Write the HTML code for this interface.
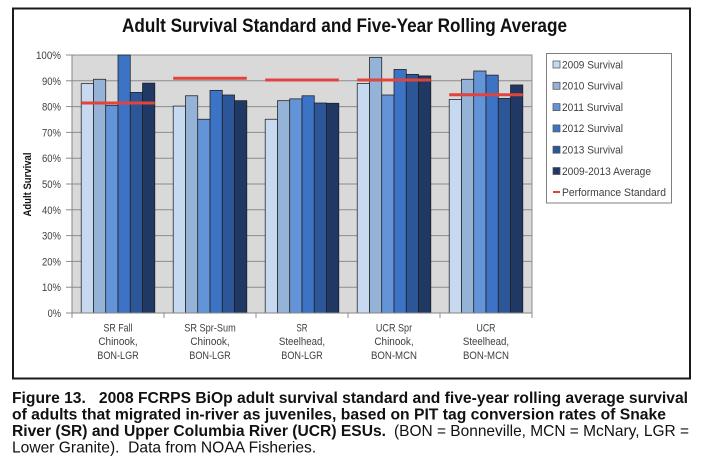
<!DOCTYPE html>
<html>
<head>
<meta charset="utf-8">
<style>
  html, body { margin: 0; padding: 0; background: #ffffff; }
  svg { display: block; }
  .ax { font-family: "Liberation Sans", sans-serif; font-size: 11px; fill: #404040; }
  .lg { font-family: "Liberation Sans", sans-serif; font-size: 11px; fill: #404040; }
  .cap { font-family: "Liberation Sans", sans-serif; font-size: 15.6px; fill: #111; }
</style>
</head>
<body>
<svg width="701" height="461" viewBox="0 0 701 461" xmlns="http://www.w3.org/2000/svg">
  <rect x="0" y="0" width="701" height="461" fill="#ffffff"/>
  <!-- chart frame -->
  <rect x="13" y="8.5" width="677" height="370" fill="#ffffff" stroke="#1a1a1a" stroke-width="2"/>

  <!-- title -->
  <text x="122" y="32" font-family="Liberation Sans, sans-serif" font-weight="bold" font-size="19.5" fill="#111" textLength="445" lengthAdjust="spacingAndGlyphs">Adult Survival Standard and Five-Year Rolling Average</text>

  <!-- plot area -->
  <rect x="72" y="55" width="460" height="258" fill="#d9d9d9" stroke="#8c8c8c" stroke-width="1"/>
  <g stroke="#8c8c8c" stroke-width="1">
    <line x1="72" y1="80.8" x2="532" y2="80.8"/>
    <line x1="72" y1="106.6" x2="532" y2="106.6"/>
    <line x1="72" y1="132.4" x2="532" y2="132.4"/>
    <line x1="72" y1="158.2" x2="532" y2="158.2"/>
    <line x1="72" y1="184" x2="532" y2="184"/>
    <line x1="72" y1="209.8" x2="532" y2="209.8"/>
    <line x1="72" y1="235.6" x2="532" y2="235.6"/>
    <line x1="72" y1="261.4" x2="532" y2="261.4"/>
    <line x1="72" y1="287.2" x2="532" y2="287.2"/>
    <!-- y ticks -->
    <line x1="66" y1="55" x2="72" y2="55"/>
    <line x1="66" y1="80.8" x2="72" y2="80.8"/>
    <line x1="66" y1="106.6" x2="72" y2="106.6"/>
    <line x1="66" y1="132.4" x2="72" y2="132.4"/>
    <line x1="66" y1="158.2" x2="72" y2="158.2"/>
    <line x1="66" y1="184" x2="72" y2="184"/>
    <line x1="66" y1="209.8" x2="72" y2="209.8"/>
    <line x1="66" y1="235.6" x2="72" y2="235.6"/>
    <line x1="66" y1="261.4" x2="72" y2="261.4"/>
    <line x1="66" y1="287.2" x2="72" y2="287.2"/>
    <line x1="66" y1="313" x2="72" y2="313"/>
    <!-- x ticks -->
    <line x1="72" y1="313" x2="72" y2="318"/>
    <line x1="164" y1="313" x2="164" y2="318"/>
    <line x1="256" y1="313" x2="256" y2="318"/>
    <line x1="348" y1="313" x2="348" y2="318"/>
    <line x1="440" y1="313" x2="440" y2="318"/>
    <line x1="532" y1="313" x2="532" y2="318"/>
  </g>

  <!-- bars -->
  <g stroke="#1e1e1e" stroke-width="0.75">
    <!-- G1 -->
    <rect x="81.2" y="83.64" width="12.27" height="229.36" fill="#c6d9f0"/>
    <rect x="93.47" y="79.25" width="12.27" height="233.75" fill="#95b3d7"/>
    <rect x="105.73" y="105.31" width="12.27" height="207.69" fill="#6494d8"/>
    <rect x="118" y="55" width="12.27" height="258" fill="#3d73c5"/>
    <rect x="130.27" y="92.41" width="12.27" height="220.59" fill="#2d5699"/>
    <rect x="142.53" y="83.12" width="12.27" height="229.88" fill="#1f3864"/>
    <!-- G2 -->
    <rect x="173.2" y="106.08" width="12.27" height="206.92" fill="#c6d9f0"/>
    <rect x="185.47" y="95.76" width="12.27" height="217.24" fill="#95b3d7"/>
    <rect x="197.73" y="119.24" width="12.27" height="193.76" fill="#6494d8"/>
    <rect x="210" y="90.35" width="12.27" height="222.65" fill="#3d73c5"/>
    <rect x="222.27" y="94.99" width="12.27" height="218.01" fill="#2d5699"/>
    <rect x="234.53" y="100.67" width="12.27" height="212.33" fill="#1f3864"/>
    <!-- G3 -->
    <rect x="265.2" y="119.24" width="12.27" height="193.76" fill="#c6d9f0"/>
    <rect x="277.47" y="100.67" width="12.27" height="212.33" fill="#95b3d7"/>
    <rect x="289.73" y="98.86" width="12.27" height="214.14" fill="#6494d8"/>
    <rect x="302" y="95.76" width="12.27" height="217.24" fill="#3d73c5"/>
    <rect x="314.27" y="102.99" width="12.27" height="210.01" fill="#2d5699"/>
    <rect x="326.53" y="103.25" width="12.27" height="209.75" fill="#1f3864"/>
    <!-- G4 -->
    <rect x="357.2" y="83.38" width="12.27" height="229.62" fill="#c6d9f0"/>
    <rect x="369.47" y="57.32" width="12.27" height="255.68" fill="#95b3d7"/>
    <rect x="381.73" y="94.99" width="12.27" height="218.01" fill="#6494d8"/>
    <rect x="394" y="69.45" width="12.27" height="243.55" fill="#3d73c5"/>
    <rect x="406.27" y="74.35" width="12.27" height="238.65" fill="#2d5699"/>
    <rect x="418.53" y="75.9" width="12.27" height="237.1" fill="#1f3864"/>
    <!-- G5 -->
    <rect x="449.2" y="99.38" width="12.27" height="213.62" fill="#c6d9f0"/>
    <rect x="461.47" y="79.25" width="12.27" height="233.75" fill="#95b3d7"/>
    <rect x="473.73" y="71" width="12.27" height="242" fill="#6494d8"/>
    <rect x="486" y="75.12" width="12.27" height="237.88" fill="#3d73c5"/>
    <rect x="498.27" y="98.34" width="12.27" height="214.66" fill="#2d5699"/>
    <rect x="510.53" y="84.93" width="12.27" height="228.07" fill="#1f3864"/>
  </g>

  <!-- axis lines -->
  <line x1="72" y1="55" x2="72" y2="313" stroke="#868686" stroke-width="1"/>
  <line x1="72" y1="313" x2="532" y2="313" stroke="#868686" stroke-width="1"/>

  <!-- performance standard lines -->
  <g stroke="#e0443c" stroke-width="3">
    <line x1="81.2" y1="102.99" x2="154.8" y2="102.99"/>
    <line x1="173.2" y1="78.22" x2="246.8" y2="78.22"/>
    <line x1="265.2" y1="80.03" x2="338.8" y2="80.03"/>
    <line x1="357.2" y1="80.03" x2="430.8" y2="80.03"/>
    <line x1="449.2" y1="94.73" x2="522.8" y2="94.73"/>
  </g>

  <!-- y tick labels -->
  <g class="ax" text-anchor="end">
    <text x="61" y="59" textLength="25" lengthAdjust="spacingAndGlyphs">100%</text>
    <text x="61" y="84.8" textLength="19" lengthAdjust="spacingAndGlyphs">90%</text>
    <text x="61" y="110.6" textLength="19" lengthAdjust="spacingAndGlyphs">80%</text>
    <text x="61" y="136.4" textLength="19" lengthAdjust="spacingAndGlyphs">70%</text>
    <text x="61" y="162.2" textLength="19" lengthAdjust="spacingAndGlyphs">60%</text>
    <text x="61" y="188" textLength="19" lengthAdjust="spacingAndGlyphs">50%</text>
    <text x="61" y="213.8" textLength="19" lengthAdjust="spacingAndGlyphs">40%</text>
    <text x="61" y="239.6" textLength="19" lengthAdjust="spacingAndGlyphs">30%</text>
    <text x="61" y="265.4" textLength="19" lengthAdjust="spacingAndGlyphs">20%</text>
    <text x="61" y="291.2" textLength="19" lengthAdjust="spacingAndGlyphs">10%</text>
    <text x="61" y="317" textLength="13.4" lengthAdjust="spacingAndGlyphs">0%</text>
  </g>

  <!-- y axis title -->
  <text transform="translate(31,184.5) rotate(-90)" text-anchor="middle" font-family="Liberation Sans, sans-serif" font-weight="bold" font-size="11" fill="#111" textLength="64" lengthAdjust="spacingAndGlyphs">Adult Survival</text>

  <!-- x labels -->
  <g class="ax" text-anchor="middle">
    <text x="118" y="331.5" textLength="29" lengthAdjust="spacingAndGlyphs">SR Fall</text>
    <text x="118" y="345" textLength="39.3" lengthAdjust="spacingAndGlyphs">Chinook,</text>
    <text x="118" y="358.8" textLength="41.5" lengthAdjust="spacingAndGlyphs">BON-LGR</text>

    <text x="210" y="331.5" textLength="51.5" lengthAdjust="spacingAndGlyphs">SR Spr-Sum</text>
    <text x="210" y="345" textLength="39.3" lengthAdjust="spacingAndGlyphs">Chinook,</text>
    <text x="210" y="358.8" textLength="41.5" lengthAdjust="spacingAndGlyphs">BON-LGR</text>

    <text x="302" y="331.5" textLength="11" lengthAdjust="spacingAndGlyphs">SR</text>
    <text x="302" y="345" textLength="46.2" lengthAdjust="spacingAndGlyphs">Steelhead,</text>
    <text x="302" y="358.8" textLength="41.5" lengthAdjust="spacingAndGlyphs">BON-LGR</text>

    <text x="394" y="331.5" textLength="36.2" lengthAdjust="spacingAndGlyphs">UCR Spr</text>
    <text x="394" y="345" textLength="39.3" lengthAdjust="spacingAndGlyphs">Chinook,</text>
    <text x="394" y="358.8" textLength="46.1" lengthAdjust="spacingAndGlyphs">BON-MCN</text>

    <text x="486" y="331.5" textLength="19" lengthAdjust="spacingAndGlyphs">UCR</text>
    <text x="486" y="345" textLength="46.2" lengthAdjust="spacingAndGlyphs">Steelhead,</text>
    <text x="486" y="358.8" textLength="46.1" lengthAdjust="spacingAndGlyphs">BON-MCN</text>
  </g>

  <!-- legend -->
  <rect x="546.5" y="53.5" width="125" height="149.5" fill="#ffffff" stroke="#7f7f7f" stroke-width="1"/>
  <g stroke="#555" stroke-width="0.75">
    <rect x="553" y="61" width="7" height="7" fill="#c6d9f0"/>
    <rect x="553" y="82.3" width="7" height="7" fill="#95b3d7"/>
    <rect x="553" y="103.6" width="7" height="7" fill="#6494d8"/>
    <rect x="553" y="124.9" width="7" height="7" fill="#3d73c5"/>
    <rect x="553" y="146.2" width="7" height="7" fill="#2d5699"/>
    <rect x="553" y="167.5" width="7" height="7" fill="#1f3864"/>
  </g>
  <line x1="553" y1="192" x2="560" y2="192" stroke="#e0443c" stroke-width="2"/>
  <g class="lg">
    <text x="562" y="68.3" textLength="61" lengthAdjust="spacingAndGlyphs">2009 Survival</text>
    <text x="562" y="89.6" textLength="61" lengthAdjust="spacingAndGlyphs">2010 Survival</text>
    <text x="562" y="110.9" textLength="61" lengthAdjust="spacingAndGlyphs">2011 Survival</text>
    <text x="562" y="132.2" textLength="61" lengthAdjust="spacingAndGlyphs">2012 Survival</text>
    <text x="562" y="153.5" textLength="61" lengthAdjust="spacingAndGlyphs">2013 Survival</text>
    <text x="562" y="174.8" textLength="89" lengthAdjust="spacingAndGlyphs">2009-2013 Average</text>
    <text x="562" y="196.1" textLength="104" lengthAdjust="spacingAndGlyphs">Performance Standard</text>
  </g>

  <!-- caption -->
  <text class="cap" x="12" y="403" font-weight="bold" textLength="676" lengthAdjust="spacingAndGlyphs">Figure 13.&#160;&#160;&#160;2008 FCRPS BiOp adult survival standard and five-year rolling average survival</text>
  <text class="cap" x="12" y="419.5" font-weight="bold" textLength="654" lengthAdjust="spacingAndGlyphs">of adults that migrated in-river as juveniles, based on PIT tag conversion rates of Snake</text>
  <text class="cap" x="12" y="436" font-weight="bold" textLength="374" lengthAdjust="spacingAndGlyphs">River (SR) and Upper Columbia River (UCR) ESUs.</text>
  <text class="cap" x="394" y="436" textLength="295" lengthAdjust="spacingAndGlyphs">(BON = Bonneville, MCN = McNary, LGR =</text>
  <text class="cap" x="12" y="452.5">Lower Granite).&#160;&#160;Data from NOAA Fisheries.</text>
</svg>
</body>
</html>
